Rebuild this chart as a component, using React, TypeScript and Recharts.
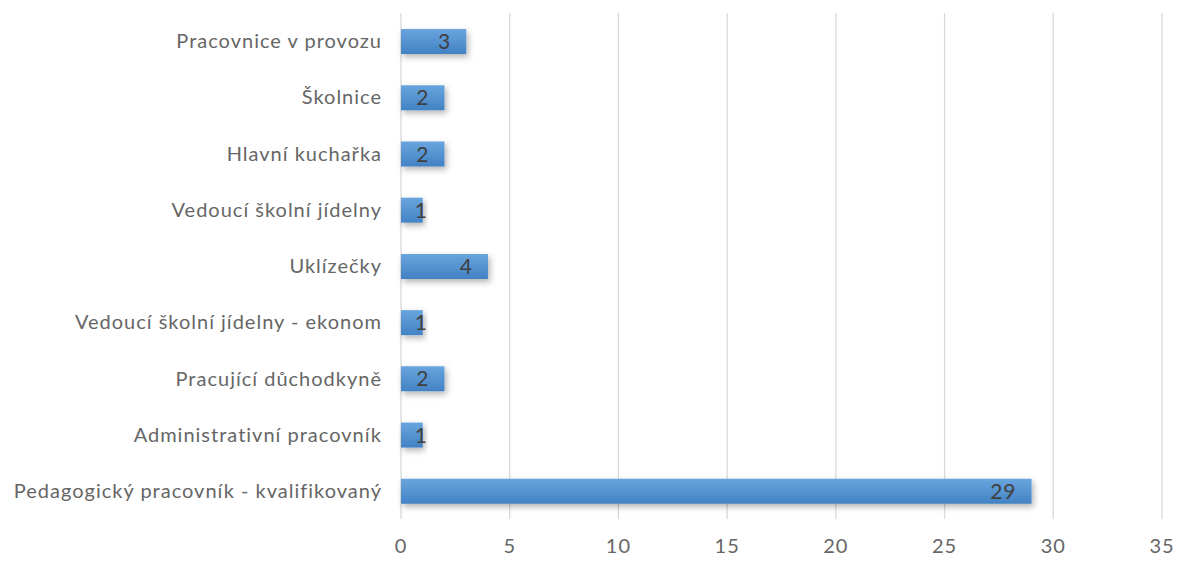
import { BarChart, Bar, XAxis, YAxis, CartesianGrid, LabelList } from "recharts";

const categories = [
  "Pracovnice v provozu",
  "Školnice",
  "Hlavní kuchařka",
  "Vedoucí školní jídelny",
  "Uklízečky",
  "Vedoucí školní jídelny - ekonom",
  "Pracující důchodkyně",
  "Administrativní pracovník",
  "Pedagogický pracovník - kvalifikovaný",
];
const counts = [3, 2, 2, 1, 4, 1, 2, 1, 29];
const xTicks = [0, 5, 10, 15, 20, 25, 30, 35];

const data = categories.map((name, i) => ({ name, value: counts[i] }));

const FONT = "Lato, 'Open Sans', sans-serif";

// label sits inside the bar end, but never closer than ~26px to the base
const ValueLabel = (props: any) => {
  const { x, y, width, height, value } = props;
  const tx = Math.max(x + width - 15, x + 27);
  return (
    <text
      x={tx}
      y={y + height / 2}
      dy="0.36em"
      textAnchor="end"
      fill="#404040"
      fontSize={21}
      letterSpacing={1}
      fontFamily={FONT}
    >
      {value}
    </text>
  );
};

export default function App() {
  return (
    <div style={{ position: "absolute", left: 0, top: 0, background: "#fff" }}>
      <BarChart
        width={1181}
        height={561}
        data={data}
        layout="vertical"
        margin={{ top: 13, right: 19, bottom: 0, left: 0 }}
        barCategoryGap="55%"
      >
        <defs>
          <linearGradient id="barFill" x1="0" y1="0" x2="0" y2="1">
            <stop offset="0%" stopColor="#69a5de" />
            <stop offset="100%" stopColor="#4282c4" />
          </linearGradient>
          <filter id="barShadow" x="-10%" y="-40%" width="130%" height="200%">
            <feDropShadow dx="2" dy="3" stdDeviation="3" floodColor="#000" floodOpacity="0.3" />
          </filter>
        </defs>
        <CartesianGrid horizontal={false} stroke="#d9d9d9" strokeWidth={1.3} />
        <XAxis
          type="number"
          domain={[0, 35]}
          ticks={xTicks}
          interval={0}
          axisLine={false}
          tickLine={false}
          tickSize={0}
          tickMargin={20}
          height={42}
          tick={{ fill: "#666666", fontSize: 20, fontFamily: FONT, letterSpacing: 1 }}
        />
        <YAxis
          type="category"
          dataKey="name"
          width={401}
          axisLine={false}
          tickLine={false}
          tickSize={0}
          tickMargin={19}
          interval={0}
          tick={{ fill: "#666666", fontSize: 20, fontFamily: FONT, letterSpacing: 1 }}
        />
        <Bar
          dataKey="value"
          fill="url(#barFill)"
          barSize={25}
          filter="url(#barShadow)"
          isAnimationActive={false}
        >
          <LabelList dataKey="value" content={<ValueLabel />} />
        </Bar>
      </BarChart>
    </div>
  );
}
